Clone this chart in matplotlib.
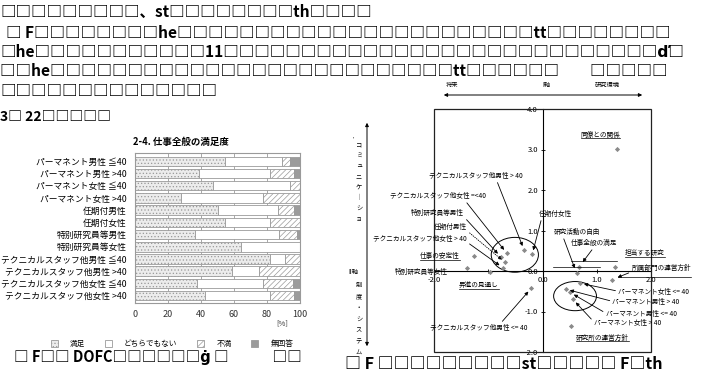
import matplotlib
matplotlib.use('Agg')
import matplotlib.pyplot as plt
from matplotlib.patches import Ellipse, Patch, Rectangle, FancyArrowPatch
from matplotlib.lines import Line2D
from matplotlib.transforms import IdentityTransform

plt.rcParams['font.family'] = ['Noto Sans CJK JP', 'DejaVu Sans']
plt.rcParams['hatch.linewidth'] = 0.5
plt.rcParams['hatch.color'] = '#888888'

W, H = 709, 379
fig = plt.figure(figsize=(W / 100, H / 100), dpi=100)


def rect(l, t, r, b):
    return [l / W, 1 - b / H, (r - l) / W, (b - t) / H]


def fx(px):
    return px / W


def fy(py):
    return 1 - py / H


# ---------------- data: bar chart ----------------
groups = ['パーマネント男性 ≦40', 'パーマネント男性 >40', 'パーマネント女性 ≦40', 'パーマネント女性 >40',
          '任期付男性', '任期付女性', '特別研究員等男性', '特別研究員等女性',
          'テクニカルスタッフ他男性 ≦40', 'テクニカルスタッフ他男性 >40',
          'テクニカルスタッフ他女性 ≦40', 'テクニカルスタッフ他女性 >40']
satisfied = [54.4, 38.7, 47.3, 27.6, 50.1, 54.4, 36.5, 64.3, 81.7, 58.6, 37.5, 42.2]
neutral = [34.8, 43.0, 46.6, 49.9, 36.5, 27.3, 50.7, 35.7, 9.2, 16.5, 40.2, 39.5]
dissatisfied = [4.7, 14.6, 6.1, 22.5, 9.7, 18.3, 10.8, 0.0, 9.1, 24.9, 17.8, 14.6]
no_answer = [6.1, 3.7, 0.0, 0.0, 3.7, 0.0, 2.0, 0.0, 0.0, 0.0, 4.5, 3.7]
legend_labels = ['満足', 'どちらでもない', '不満', '無回答']
bar_ticks = [0, 20, 40, 60, 80, 100]

# ---------------- data: scatter ----------------
item_names = ['同僚との関係', '研究活動の自由', '仕事全般の満足', '担当する研究', '所属部門の運営方針',
              '研究所の運営方針', '昇進の見通し', '仕事の安定性']
item_x = [1.38, 0.63, 0.68, 1.34, 1.29, 0.52, -0.97, -1.26]
item_y = [3.01, -0.06, 0.11, 0.11, -0.21, -1.36, -0.03, 0.37]

grp_names = ['テクニカルスタッフ他男性 > 40', 'テクニカルスタッフ他女性 =<40', '特別研究員等男性', '任期付男性',
             'テクニカルスタッフ他女性 > 40', '任期付女性', '特別研究員等女性',
             'パーマネント女性 <= 40', 'パーマネント男性 > 40', 'パーマネント男性 <= 40', 'パーマネント女性 > 40',
             'テクニカルスタッフ他男性 <= 40']
grp_x = [-0.34, -0.66, -0.77, -0.69, -0.73, -0.19, -1.40, 0.69, 0.43, 0.51, 0.56, -0.21]
grp_y = [0.52, 0.44, 0.35, 0.21, 0.08, 0.41, 0.07, -0.30, -0.45, -0.53, -0.70, -0.43]

# ================= bar chart =================
ax = fig.add_axes(rect(135, 153, 300, 303))
ypos = list(range(len(groups)))
ec = '#9a9a9a'
left = [0.0] * len(groups)
styles = [dict(color='#ececec', hatch='.....'),
          dict(color='white', hatch=None),
          dict(color='white', hatch='//////'),
          dict(color='#9b9b9b', hatch=None)]
for vals, st in zip([satisfied, neutral, dissatisfied, no_answer], styles):
    ax.barh(ypos, vals, left=left, height=0.78, color=st['color'], hatch=st['hatch'],
            edgecolor=ec, linewidth=0.6, zorder=2)
    left = [a + b for a, b in zip(left, vals)]
ax.set_xlim(0, 100)
ax.set_ylim(11.6, -0.68)
ax.set_yticks(ypos)
ax.set_yticklabels(groups, fontsize=6.3)
ax.set_xticks(bar_ticks)
ax.set_xticklabels([str(t) for t in bar_ticks], fontsize=6.5, color='#333333')
ax.tick_params(axis='y', length=0, pad=6)
ax.tick_params(axis='x', length=0, pad=5)
ax.grid(axis='x', color='#9a9a9a', lw=0.6, zorder=0)
for s in ax.spines.values():
    s.set_color('#9a9a9a')
    s.set_linewidth(0.8)
fig.text(fx(133), fy(142), '2-4. 仕事全般の満足度', fontsize=6.8, fontweight='bold', ha='left', va='center')
fig.text(fx(282), fy(323), '[%]', fontsize=5.5, ha='center', va='center', color='#333333')
handles = [Patch(facecolor=st['color'], hatch=st['hatch'], edgecolor=ec, lw=0.6) for st in styles]
fig.legend(handles, legend_labels, loc='center', bbox_to_anchor=(fx(172), fy(344)), ncol=4, frameon=False,
           fontsize=5.5, handlelength=0.9, handleheight=0.9, columnspacing=2.6, handletextpad=1.6)

# ================= scatter =================
ax2 = fig.add_axes(rect(434, 109, 651, 352))
ax2.set_xlim(-2, 2)
ax2.set_ylim(-2, 4)
ax2.spines['left'].set_position(('data', 0))
ax2.spines['bottom'].set_position(('data', 0))
ax2.spines['right'].set_visible(False)
ax2.spines['top'].set_visible(False)
for s in ['left', 'bottom']:
    ax2.spines[s].set_linewidth(0.8)
ax2.add_patch(Rectangle((0, 0), 1, 1, transform=ax2.transAxes, fill=False, lw=0.9, ec='#222222',
                        clip_on=False, zorder=3))
ax2.set_xticks([-2, -1, 0, 1, 2])
ax2.set_xticklabels(['-2.0', '', '0.0', '1.0', '2.0'], fontsize=5.5)
ax2.set_yticks([-2, -1, 0, 1, 2, 3, 4])
ax2.set_yticklabels(['-2.0', '-1.0', '0.0', '1.0', '2.0', '3.0', '4.0'], fontsize=5.5)
ax2.tick_params(length=2.5, width=0.6, direction='inout', pad=2)
ax2.scatter(item_x, item_y, marker='D', s=7, color='#8a8a8a', zorder=4, lw=0)
ax2.scatter(grp_x, grp_y, marker='D', s=7, color='#8a8a8a', zorder=4, lw=0)
ax2.add_patch(Ellipse((-0.51, 0.40), 0.87, 0.86, fill=False, lw=0.7, ec='black', zorder=3))
ax2.add_patch(Ellipse((0.60, -0.62), 0.79, 0.72, fill=False, lw=0.7, ec='black', zorder=3))

fs = 4.8
item_text = [(1.07, 3.36), (0.63, 0.96), (0.95, 0.69), (1.89, 0.44), (2.19, 0.07),
             (1.11, -1.65), (-1.17, -0.35), (-1.89, 0.37)]
item_arrow = [None, (0.2, 0.0), (0.5, 0.0), None, (0.05, 0.2), None, None, None]
item_texts = []
for name, x, y, (tx, ty), rp in zip(item_names, item_x, item_y, item_text, item_arrow):
    if rp is None:
        t = ax2.text(tx, ty, name, fontsize=fs, ha='center', va='center', zorder=5)
    else:
        t = ax2.annotate(name, xy=(x, y), xytext=(tx, ty), fontsize=fs, ha='center', va='center', zorder=5,
                         arrowprops=dict(arrowstyle='-|>', color='black', lw=0.6, mutation_scale=5,
                                         shrinkA=0, shrinkB=4, relpos=rp))
    item_texts.append(t)

grp_text = [(-1.23, 2.35), (-1.93, 1.85), (-1.94, 1.43), (-1.70, 1.09), (-2.26, 0.79), (0.23, 1.41),
            (-2.24, -0.02), (2.05, -0.52), (1.91, -0.77), (1.82, -1.06), (1.57, -1.28), (-1.18, -1.41)]
grp_arrow = [(0.72, 0.0), (0.78, 0.0), (0.98, 0.2), (0.95, 0.2), (0.98, 0.3), (0.1, 0.0),
             None, (0.0, 0.6), (0.0, 0.6), (0.0, 0.6), (0.0, 0.6), (0.72, 1.0)]
for name, x, y, (tx, ty), rp in zip(grp_names, grp_x, grp_y, grp_text, grp_arrow):
    if rp is None:
        ax2.text(tx, ty, name, fontsize=fs, ha='center', va='center', zorder=5)
    else:
        ls = ':' if name == '任期付男性' else '-'
        ax2.annotate(name, xy=(x, y), xytext=(tx, ty), fontsize=fs, ha='center', va='center', zorder=5,
                     annotation_clip=False,
                     arrowprops=dict(arrowstyle='-|>', color='black', lw=0.6, mutation_scale=5, linestyle=ls,
                                     shrinkA=0, shrinkB=3, relpos=rp))

# axis annotations around scatter
fig.text(fx(452), fy(85), '将来', fontsize=4.5, ha='center', va='center')
fig.text(fx(546), fy(85), 'I軸', fontsize=4.5, ha='center', va='center')
fig.text(fx(607), fy(85), '研究環境', fontsize=4.5, ha='center', va='center')
fig.add_artist(FancyArrowPatch((fx(441), fy(95)), (fx(645), fy(95)), transform=fig.transFigure,
                               arrowstyle='<|-|>', mutation_scale=5, lw=0.7, color='black'))
fig.add_artist(FancyArrowPatch((fx(367), fy(349)), (fx(367), fy(120)), transform=fig.transFigure,
                               arrowstyle='<|-|>', mutation_scale=5, lw=0.7, color='black'))
fig.text(fx(359), fy(140), '\n'.join(list('コミュニケ｜ショ')), fontsize=4.5, ha='center', va='top',
         linespacing=1.45)
fig.text(fx(353), fy(139), '\'', fontsize=4, ha='center', va='center')
fig.text(fx(353), fy(272), 'II軸', fontsize=4.5, ha='center', va='center')
fig.text(fx(359), fy(281), '\n'.join(list('制度・システム')), fontsize=4.5, ha='center', va='top',
         linespacing=1.55)

# ================= garbled surrounding text (missing-glyph boxes) =================
B = '□'
S = '　'
tfs = 11.2
lines = [
    (0, 12, tfs, B * 9 + '、st' + B * 8 + 'th' + B * 4),
    (6, 33, tfs, B + ' F' + B * 8 + 'he' + B * 23 + 'tt' + B * 8),
    (0, 52, tfs, B + 'he' + B * 11 + '11' + B * 28 + 'ď' + B),
    (0, 71, tfs, B * 2 + 'he' + B * 26 + 'tt' + B * 6 + S * 2 + B * 5),
    (0, 91, tfs, B * 14),
    (14, 357, 10.5, B + ' F' + B * 2 + ' DOFC' + B * 6 + 'ġ ' + B + S * 3 + B * 2),
    (345, 364, 11.5, B + ' F ' + B * 9 + 'st' + B * 5 + ' F' + B + 'th'),
]
for x, y, f, s in lines:
    fig.text(fx(x), fy(y), s, fontsize=f, ha='left', va='center', fontweight='bold',
             family=['Noto Sans CJK JP', 'DejaVu Sans'])
fig.text(fx(0), fy(117), '3' + B + ' 22' + B * 5, fontsize=10, ha='left', va='center',
         family=['Noto Sans CJK JP', 'DejaVu Sans'], fontweight='bold')

# underline item labels
fig.canvas.draw()
r = fig.canvas.get_renderer()
for t in item_texts:
    bb = t.get_window_extent(r)
    fig.add_artist(Line2D([bb.x0, bb.x1], [bb.y0 + 0.5, bb.y0 + 0.5], transform=IdentityTransform(),
                          color='black', lw=0.5))

fig.savefig('out.png', dpi=100)
